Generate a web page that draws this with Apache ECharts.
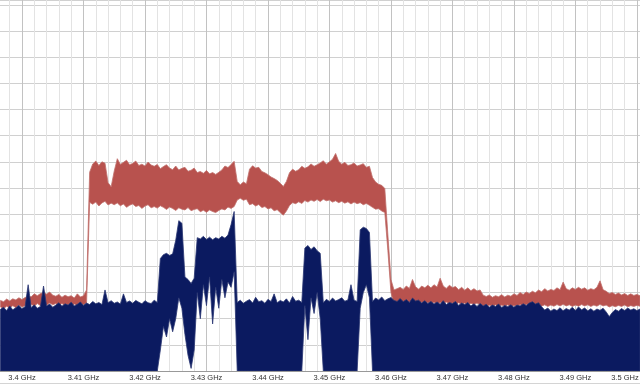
<!DOCTYPE html>
<html><head><meta charset="utf-8">
<script src="https://cdn.jsdelivr.net/npm/echarts@6/dist/echarts.min.js"></script>
<style>html,body{margin:0;padding:0;background:#fff}#c{width:640px;height:384px}</style>
</head><body><div id="c"></div>
<script>
// Frequency samples (GHz)
const freqs = [
3.3965,3.397,3.3975,3.398,3.3985,3.399,3.3995,3.4,3.4005,3.401,
3.4015,3.402,3.4025,3.403,3.4035,3.404,3.4045,3.405,3.4055,3.406,
3.4065,3.407,3.4075,3.408,3.4085,3.409,3.4095,3.41,3.4105,3.411,
3.4115,3.412,3.4125,3.413,3.4135,3.414,3.4145,3.415,3.4155,3.416,
3.4165,3.417,3.4175,3.418,3.4185,3.419,3.4195,3.42,3.4205,3.421,
3.4215,3.422,3.4225,3.423,3.4235,3.424,3.4245,3.425,3.4255,3.426,
3.4265,3.427,3.4275,3.428,3.4285,3.429,3.4295,3.43,3.4305,3.431,
3.4315,3.432,3.4325,3.433,3.4335,3.434,3.4345,3.435,3.4355,3.436,
3.4365,3.437,3.4375,3.438,3.4385,3.439,3.4395,3.44,3.4405,3.441,
3.4415,3.442,3.4425,3.443,3.4435,3.444,3.4445,3.445,3.4455,3.446,
3.4465,3.447,3.4475,3.448,3.4485,3.449,3.4495,3.45,3.4505,3.451,
3.4515,3.452,3.4525,3.453,3.4535,3.454,3.4545,3.455,3.4555,3.456,
3.4565,3.457,3.4575,3.458,3.4585,3.459,3.4595,3.46,3.4605,3.461,
3.4615,3.462,3.4625,3.463,3.4635,3.464,3.4645,3.465,3.4655,3.466,
3.4665,3.467,3.4675,3.468,3.4685,3.469,3.4695,3.47,3.4705,3.471,
3.4715,3.472,3.4725,3.473,3.4735,3.474,3.4745,3.475,3.4755,3.476,
3.4765,3.477,3.4775,3.478,3.4785,3.479,3.4795,3.48,3.4805,3.481,
3.4815,3.482,3.4825,3.483,3.4835,3.484,3.4845,3.485,3.4855,3.486,
3.4865,3.487,3.4875,3.488,3.4885,3.489,3.4895,3.49,3.4905,3.491,
3.4915,3.492,3.4925,3.493,3.4935,3.494,3.4945,3.495,3.4955,3.496,
3.4965,3.497,3.4975,3.498,3.4985,3.499,3.4995,3.5,3.5005
];
// Red trace (max hold) upper / lower envelope
const redHi = [
27,26.5,27.5,26.8,27.6,27.2,28,27.3,28.1,28.5,
28.4,29.5,28.8,29.6,30,29.4,30.2,29,28.6,29.3,
28.2,29,28.4,28.8,27.9,29.5,28.3,28.8,31,76,
79.2,80.3,78.6,80.0,79.5,72,70.5,76.5,81.2,79.0,
79.8,80.6,78.9,79.4,80.3,78.6,79.1,78.4,79.9,78.8,
78.3,79.0,77.4,78.2,78.9,77.6,77.0,78.4,76.9,77.5,
77.9,76.4,76.8,77.6,75.9,76.3,75.6,76.7,75.4,75.9,
75.2,76.0,76.9,78.4,77.8,79.0,80.2,72.5,71.2,72.3,
71.6,77.2,78.5,77.6,77.9,76.3,75.8,75.1,74.2,73.6,
72.9,71.8,70.6,72.5,75.8,77.2,76.4,77.0,78.3,77.5,
78.1,79.2,78.3,78.9,79.6,80.4,79.1,80.0,81.0,83.2,
80.2,79.1,79.8,78.6,78.9,79.6,78.4,78.8,79.3,77.9,
78.3,74.0,72.3,71.4,71.0,69.8,52,35,31,31.5,
32,31.2,32.5,31.6,35,32.2,31.3,32.5,31.8,32.8,
31.8,33,32.1,35.5,32.5,31.6,32.8,31.9,32.3,31.1,
32,30.9,31.8,30.7,31.5,30.6,31,29,28.5,29.1,
28.2,28.8,28.4,29.2,28.3,29,28.6,29.5,28.9,30,
29.3,30.2,29.6,30.5,29.9,31,30.3,31.5,30.6,31.2,
30.8,31.8,31.1,34,31.5,30.9,31.8,31.2,32,31.3,
31.8,30.9,31.5,31.1,32,34.5,31.1,30.5,29.6,30,
29.3,29.8,29.1,29.6,28.9,29.5,28.9,29.3,28.8
];
const redLo = [
24.5,23.8,24.8,24,25,24.2,25.2,24.5,25,24.3,
25.5,24.8,25.8,25,26,25.2,26,25.3,25.8,25,
25.8,25,25.5,24.8,25.6,25,25.8,25.3,26,64.5,
63.8,64.6,63.1,64.3,64.9,63.5,64.2,63.6,64.3,63.2,
63.9,62.6,63.4,63.9,62.9,63.3,62.2,63.1,63.6,62.4,
62.9,62.3,63.2,62.6,61.8,62.7,62.2,61.4,62.4,61.9,
61.6,62.5,61.3,61.8,62.1,60.9,61.5,60.7,61.6,61.0,
60.6,61.4,62.0,61.6,62.7,62.2,62.9,65.4,66.1,65.3,
65.7,63.6,64.0,63.1,63.7,62.5,62.9,62.0,62.4,61.3,
61.7,60.6,59.6,61.2,63.3,64.4,64.0,64.7,64.1,65.2,
64.6,65.4,64.9,65.6,64.8,65.7,65.1,65.4,64.6,65.1,
64.4,64.9,64.2,64.7,63.9,64.6,64.0,64.4,63.6,64.1,
63.4,62.6,61.9,62.1,61.2,60.6,46,30,25.5,26,
25.5,26.2,25.6,26.4,25.8,26.5,25.7,26.3,25.5,26.2,
25.6,26.3,25.5,26.2,25.8,26.4,25.6,26,25.4,26.1,
25.5,26,25.3,25.9,25.4,26,25.2,25,24.6,25.2,
24.7,25.3,24.6,25.2,24.8,25.3,24.6,25.1,24.8,25.4,
24.9,25.5,25,25.6,25,25.5,24.8,25.3,24.7,25.2,
24.8,25.4,24.9,25.5,24.9,25.3,24.7,25.2,24.8,25.4,
24.9,25.3,24.7,25.2,24.8,25.5,24.9,25.2,24.5,25,
24.6,25.1,24.7,25.2,24.6,25,24.7,25.1,24.8
];
// Blue trace (live) upper / lower envelope
const blueHi = [
23.6,24.4,23.1,24.9,23.4,24.2,25.1,23.8,24.6,33,
24.2,25.3,24.0,24.7,32.5,24.9,25.6,24.4,25.2,26.1,
24.8,25.7,25.2,26.3,24.9,25.5,26.4,25.1,26.0,25.4,
26.6,25.7,26.2,25.4,31,26.1,26.9,25.9,26.4,25.6,
29.5,26.2,26.8,25.9,27.0,26.3,25.7,26.9,26.1,25.8,
27.1,26.2,43,44.5,45,44.2,44.8,50,57.5,56.5,
36,35,33.5,35.5,51,50.5,51.5,50.3,51.2,50.2,
51,50.5,51.5,50.8,52,56,61,26.2,27.1,25.9,
26.7,27.3,26.0,28.2,26.5,26.9,25.9,27.4,26.6,29.5,
26.1,27.0,26.4,27.6,26.0,28.5,26.7,27.1,26.2,47,
48,46.5,47.5,46,45,26.1,27.4,26.6,27.9,26.8,
27.3,28.0,26.7,27.2,33,27.1,26.6,54,55,54.5,
53,26.6,27.9,27.2,28.3,26.9,27.6,28.1,27.0,26.6,
27.7,26.5,27.3,26.2,27.9,26.8,27.1,26.0,26.9,25.8,
26.6,25.6,26.4,25.5,26.9,25.4,26.2,25.8,26.6,25.1,
26.0,25.4,26.2,24.9,25.7,24.7,25.8,24.9,25.5,24.4,
25.2,24.7,25.6,24.3,25.1,24.6,25.3,24.4,25.2,24.9,
25.7,25.1,26.0,26.5,25.6,26.1,24.6,23.3,24.1,22.9,
23.7,23.1,24.2,23.0,23.9,23.3,24.4,23.1,24.5,23.4,
24.1,23.0,23.8,22.9,23.7,23.2,24.0,22.6,20.8,22.4,
23.5,22.9,23.9,23.1,24.1,23.3,23.8,23.1,23.7
];
const blueLo = [
0,0,0,0,0,0,0,0,0,0,
0,0,0,0,0,0,0,0,0,0,
0,0,0,0,0,0,0,0,0,0,
0,0,0,0,0,0,0,0,0,0,
0,0,0,0,0,0,0,0,0,0,
0,0,8,17,13,20,15,20,28,24,
14,6,1,8,30,20,33,25,36,18,
32,24,35,28,34,32,38,0,0,0,
0,0,0,0,0,0,0,0,0,0,
0,0,0,0,0,0,0,0,0,25,
12,28,22,30,20,0,0,0,0,0,
0,0,0,0,0,0,0,24,30,33,
28,0,0,0,0,0,0,0,0,0,
0,0,0,0,0,0,0,0,0,0,
0,0,0,0,0,0,0,0,0,0,
0,0,0,0,0,0,0,0,0,0,
0,0,0,0,0,0,0,0,0,0,
0,0,0,0,0,0,0,0,0,0,
0,0,0,0,0,0,0,0,0,0,
0,0,0,0,0,0,0,0,0,0,
0,0,0,0,0,0,0,0,0
];
const tickValues = [3.40,3.41,3.42,3.43,3.44,3.45,3.46,3.47,3.48,3.49,3.50];
const tickLabels = ['3.4 GHz','3.41 GHz','3.42 GHz','3.43 GHz','3.44 GHz','3.45 GHz','3.46 GHz','3.47 GHz','3.48 GHz','3.49 GHz','3.5 GHz'];

const RED = '#b8524e', BLUE = '#0b1a60';
const MINOR = '#e3e3e3', MAJOR = '#c2c2c2';
const labelFont = {fontSize: 7.5, fontFamily: 'Liberation Sans', color: '#333'};

// Band drawn as one polygon through the chart's own coordinate system
function bandSeries(hi, lo, color, edge, z) {
  return {
    type: 'custom', z: z, silent: true, clip: true,
    data: freqs.map((f, i) => [f, hi[i], lo[i]]),
    encode: {x: 0, y: [1, 2]},
    renderItem: function (params, api) {
      if (params.dataIndex !== 0) return null;
      const pts = [];
      for (let i = 0; i < freqs.length; i++) pts.push(api.coord([freqs[i], hi[i]]));
      for (let i = freqs.length - 1; i >= 0; i--) pts.push(api.coord([freqs[i], lo[i]]));
      return {
        type: 'polygon', shape: {points: pts},
        style: {fill: color, stroke: edge, lineWidth: 0.8}
      };
    }
  };
}

const chart = echarts.init(document.getElementById('c'), null, {renderer: 'canvas'});
chart.setOption({
  animation: false,
  backgroundColor: '#fff',
  grid: {left: -2.6, right: 0, top: 0, bottom: 13, containLabel: false, outerBoundsMode: 'none'},
  xAxis: {
    type: 'value', min: 3.396, max: 3.5005, interval: 0.002,
    axisLine: {show: true, lineStyle: {color: '#999', width: 1}},
    axisTick: {show: false},
    axisLabel: {
      show: true, margin: 3, ...labelFont, hideOverlap: false,
      formatter: function (v) {
        for (let i = 0; i < tickValues.length; i++) {
          if (Math.abs(v - tickValues[i]) < 1e-6) {
            return i === tickValues.length - 1 ? '{e|' + tickLabels[i] + '}' : tickLabels[i];
          }
        }
        return '';
      },
      rich: {e: {...labelFont, padding: [0, 24, 0, 0]}}
    },
    splitLine: {show: true, lineStyle: {color: [MINOR, MINOR, MAJOR, MINOR, MINOR], width: 1}}
  },
  yAxis: {
    type: 'value', min: 0, max: 141.9, interval: 10,
    axisLine: {show: false}, axisTick: {show: false}, axisLabel: {show: false},
    splitLine: {show: true, lineStyle: {color: '#d0d0d0', width: 1}}
  },
  graphic: [{type: 'rect', shape: {x: 0, y: 383, width: 640, height: 1}, style: {fill: '#d4d4d4'}, silent: true}],
  series: [
    bandSeries(redHi, redLo, RED, '#c0706c', 2),
    bandSeries(blueHi, blueLo, BLUE, '#2a3672', 3)
  ]
});
</script>
</body></html>
